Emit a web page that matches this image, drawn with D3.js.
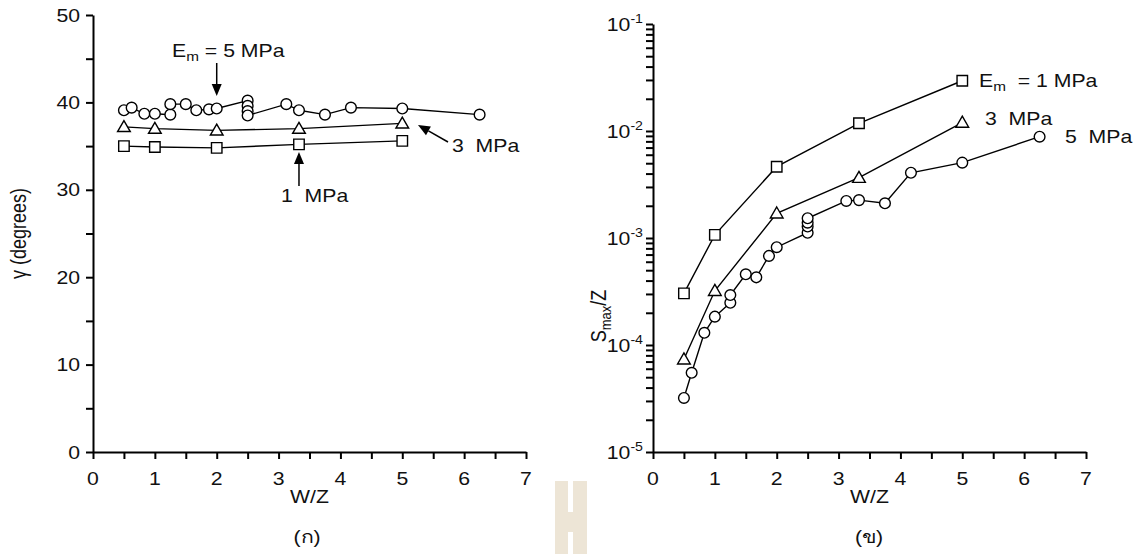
<!DOCTYPE html>
<html><head><meta charset="utf-8">
<script src="https://cdn.jsdelivr.net/npm/d3@7"></script>
<style>
body{margin:0;background:#fff}
text{font-family:"Liberation Sans",Arial,sans-serif;fill:#111;white-space:pre}
</style>
</head><body>
<svg id="c" width="1142" height="554"></svg>
<script>
// ---- data ----
const wzTicks = [0, 1, 2, 3, 4, 5, 6, 7];
const gammaTicks = [0, 10, 20, 30, 40, 50];
const smaxDecades = [-5, -4, -3, -2, -1];

// W/Z positions
const wz5 = [0.5, 0.625, 0.83, 1, 1.25, 1.25, 1.5, 1.67, 1.875, 2, 2.5, 2.5, 2.5, 2.5, 3.125, 3.33, 3.75, 4.17, 5, 6.25];
const wz13 = [0.5, 1, 2, 3.33, 5];

// (ก) gamma, degrees
const gamma5 = [39.1, 39.4, 38.7, 38.7, 38.6, 39.8, 39.8, 39.1, 39.2, 39.3, 40.2, 39.6, 39.0, 38.5, 39.8, 39.1, 38.6, 39.4, 39.3, 38.6];
const gamma3 = [37.2, 37.0, 36.8, 37.0, 37.6];
const gamma1 = [35.0, 34.9, 34.8, 35.2, 35.6];

// (ข) Smax/Z
const smax5 = [3.2e-5, 5.5e-5, 1.3e-4, 1.84e-4, 2.48e-4, 2.93e-4, 4.58e-4, 4.29e-4, 6.8e-4, 8.2e-4, 1.12e-3, 1.28e-3, 1.39e-3, 1.53e-3, 2.22e-3, 2.26e-3, 2.11e-3, 4.07e-3, 5.06e-3, 8.85e-3];
const smax3 = [7.35e-5, 3.21e-4, 1.7e-3, 3.66e-3, 1.2e-2];
const smax1 = [3.04e-4, 1.07e-3, 4.64e-3, 1.18e-2, 2.95e-2];

// ---- drawing ----
const SX = 1.18;          // horizontal text stretch
const FS = 18;
const svg = d3.select('#c');

function label(g, x, y, parts, anchor = 'start', rotate = false, size = FS) {
  const t = g.append('text')
    .attr('transform', `translate(${x},${y}) scale(${SX},1)` + (rotate ? ' rotate(-90)' : ''))
    .attr('text-anchor', anchor)
    .style('font-size', size + 'px');
  let cur = 0;
  parts.forEach(p => {
    const s = t.append('tspan').text(p.t);
    const off = p.off || 0;
    if (off !== cur) { s.attr('dy', off - cur); cur = off; }
    if (p.size) s.style('font-size', p.size + 'px');
  });
  return t;
}

function arrow(g, x1, y1, x2, y2) {
  const a = Math.atan2(y2 - y1, x2 - x1), L = 12, W = 5;
  const bx = x2 - L * Math.cos(a), by = y2 - L * Math.sin(a);
  g.append('line').attr('x1', x1).attr('y1', y1).attr('x2', bx).attr('y2', by)
    .attr('stroke', '#000').attr('stroke-width', 1.5);
  g.append('path').attr('d', `M${x2},${y2}L${bx - W * Math.sin(a)},${by + W * Math.cos(a)}L${bx + W * Math.sin(a)},${by - W * Math.cos(a)}Z`)
    .attr('fill', '#000');
}

function series(g, xs, ys, x, y, shape) {
  const pts = xs.map((d, i) => [x(d), y(ys[i])]);
  g.append('path').attr('d', d3.line()(pts)).attr('fill', 'none')
    .attr('stroke', '#000').attr('stroke-width', 1.4);
  const sym = shape === 'circle' ? d3.symbolCircle : shape === 'square' ? d3.symbolSquare : d3.symbolTriangle;
  const size = shape === 'circle' ? 90 : shape === 'square' ? 110 : 70;
  g.selectAll(null).data(pts).join('path')
    .attr('transform', d => `translate(${d[0]},${d[1] + (shape === 'triangle' ? 1 : 0)})`)
    .attr('d', d3.symbol(sym, size)())
    .attr('fill', '#fff').attr('stroke', '#000').attr('stroke-width', 1.4);
}

function styleAxis(sel) {
  sel.select('.domain').attr('stroke-width', 2);
  sel.selectAll('.tick line').attr('stroke-width', 2);
  sel.selectAll('.tick text').remove();
}

// ---------- (ก) ----------
const xL = d3.scaleLinear([0, 7], [93, 526]);
const yL = d3.scaleLinear([0, 50], [452, 15]);
const gL = svg.append('g');

gL.append('g').attr('transform', `translate(0,${yL(0)})`)
  .call(d3.axisBottom(xL).tickValues(d3.range(0, 7.01, 0.5)).tickSize(7).tickSizeOuter(0))
  .call(styleAxis);
gL.append('g').attr('transform', `translate(${xL(0)},0)`)
  .call(d3.axisLeft(yL).tickValues(d3.range(0, 50.01, 5)).tickSize(7).tickSizeOuter(0))
  .call(styleAxis);

wzTicks.forEach(v => label(gL, xL(v), 485, [{ t: String(v) }], 'middle'));
gammaTicks.forEach(v => label(gL, 80, yL(v) + 6.5, [{ t: String(v) }], 'end'));
label(gL, (xL(0) + xL(7)) / 2, 503, [{ t: 'W/Z' }], 'middle');
label(gL, 26, (yL(0) + yL(50)) / 2, [{ t: 'γ (degrees)' }], 'middle', true);
label(gL, 307, 543, [{ t: '(ก)' }], 'middle');

series(gL, wz5, gamma5, xL, yL, 'circle');
series(gL, wz13, gamma3, xL, yL, 'triangle');
series(gL, wz13, gamma1, xL, yL, 'square');

label(gL, 172, 57, [{ t: 'E' }, { t: 'm', off: 4, size: 13 }, { t: ' = 5 MPa', off: 0 }]);
arrow(gL, xL(2), 63, xL(2), 96);
label(gL, 281, 202, [{ t: '1  MPa' }]);
arrow(gL, xL(3.33), 186, xL(3.33), 152);
label(gL, 452, 152, [{ t: '3  MPa' }]);
arrow(gL, 448, 142, 418, 125);

// ---------- (ข) ----------
const xR = d3.scaleLinear([0, 7], [653, 1086]);
const yR = d3.scaleLog([1e-5, 1e-1], [452, 24]);
const gR = svg.append('g');

const logTicks = [];
smaxDecades.slice(0, -1).forEach(k => { for (let m = 1; m < 10; m++) logTicks.push(m * Math.pow(10, k)); });
logTicks.push(1e-1);

gR.append('g').attr('transform', `translate(0,${yR(1e-5)})`)
  .call(d3.axisBottom(xR).tickValues(d3.range(0, 7.01, 0.5)).tickSize(7).tickSizeOuter(0))
  .call(styleAxis);
gR.append('g').attr('transform', `translate(${xR(0)},0)`)
  .call(d3.axisLeft(yR).tickValues(logTicks).tickSize(7).tickSizeOuter(0))
  .call(styleAxis);

wzTicks.forEach(v => label(gR, xR(v), 485, [{ t: String(v) }], 'middle'));
smaxDecades.forEach(k => label(gR, 643, yR(Math.pow(10, k)) + 6.5,
  [{ t: '10' }, { t: String(k), off: -8, size: 12 }], 'end'));
label(gR, (xR(0) + xR(7)) / 2, 503, [{ t: 'W/Z' }], 'middle');
label(gR, 606, 316, [{ t: 'S' }, { t: 'max', off: 4, size: 13 }, { t: '/Z', off: 0 }], 'middle', true);
label(gR, 869, 543, [{ t: '(ข)' }], 'middle');

series(gR, wz5, smax5, xR, yR, 'circle');
series(gR, wz13, smax3, xR, yR, 'triangle');
series(gR, wz13, smax1, xR, yR, 'square');

label(gR, 979, 87, [{ t: 'E' }, { t: 'm', off: 4, size: 13 }, { t: '  = 1 MPa', off: 0 }]);
label(gR, 985, 125, [{ t: '3  MPa' }]);
label(gR, 1065, 143, [{ t: '5  MPa' }]);

// emblem between the panels
const gE = svg.append('g');
gE.append('rect').attr('x', 555).attr('y', 481).attr('width', 32).attr('height', 73).attr('fill', '#ede5d6');
gE.append('rect').attr('x', 568).attr('y', 481).attr('width', 5).attr('height', 31).attr('fill', '#fff');
gE.append('rect').attr('x', 568).attr('y', 532).attr('width', 5).attr('height', 22).attr('fill', '#fff');
</script>
</body></html>
